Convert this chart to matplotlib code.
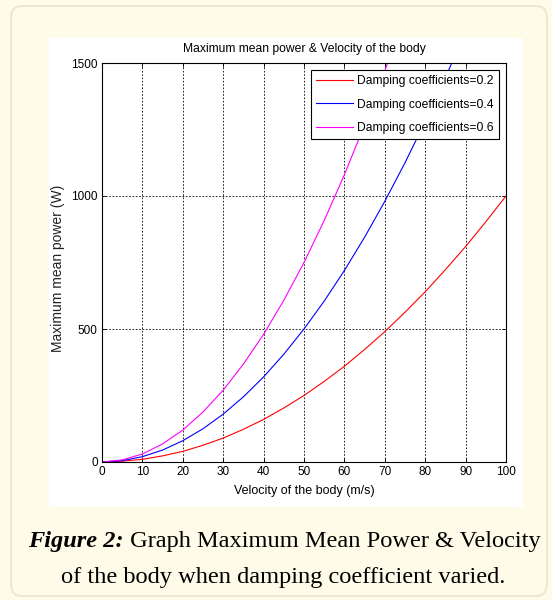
import matplotlib
matplotlib.use("Agg")
import matplotlib.pyplot as plt
from matplotlib.patches import Rectangle, FancyBboxPatch

# velocity of the body (m/s) and read-off mean power (W)
velocity = [0, 5, 10, 15, 20, 25, 30, 35, 40, 45, 50,
            55, 60, 65, 70, 75, 80, 85, 90, 95, 100]
power_02 = [0, 3, 10, 23, 40, 63, 90, 123, 160, 203, 250,
            303, 360, 423, 490, 563, 640, 723, 810, 903, 1000]
power_04 = [0, 5, 20, 45, 80, 125, 180, 245, 320, 405, 500,
            605, 720, 845, 980, 1125, 1280, 1445, 1620, 1805, 2000]
power_06 = [0, 8, 30, 68, 120, 188, 270, 368, 480, 608, 750,
            908, 1080, 1268, 1470, 1688, 1920, 2168, 2430, 2708, 3000]

series_labels = ["Damping coefficients=0.2",
                 "Damping coefficients=0.4",
                 "Damping coefficients=0.6"]
series_colors = ["#ff0000", "#0000ff", "#ff00ff"]

xticks = list(range(0, 101, 10))
yticks = [0, 500, 1000, 1500]

W, H = 552, 600
cream = "#fffbe9"

fig = plt.figure(figsize=(W / 100, H / 100), dpi=100, facecolor=cream)

# outer rounded card and white plot panel
fig.patches.append(FancyBboxPatch((11 / W, 1 - 596 / H), 536 / W, 590 / H,
                                  boxstyle="round,pad=0,rounding_size=0.02",
                                  transform=fig.transFigure, facecolor=cream,
                                  edgecolor="#ede7d2", linewidth=1.5, zorder=-2))
fig.patches.append(Rectangle((49 / W, 1 - 507 / H), 474 / W, 469 / H,
                             transform=fig.transFigure, facecolor="white",
                             edgecolor="none", zorder=-1))

ax = fig.add_axes([102 / W, 1 - 462 / H, 404 / W, 399 / H])
ax.set_facecolor("white")

for p, lab, col in zip([power_02, power_04, power_06], series_labels, series_colors):
    ax.plot(velocity, p, color=col, linewidth=0.8, label=lab)

ax.set_xlim(0, 100)
ax.set_ylim(0, 1500)
ax.set_xticks(xticks)
ax.set_yticks(yticks)
ax.grid(True, color="black", linestyle=(0, (2, 2)), linewidth=0.6)
ax.tick_params(direction="in", length=3, labelsize=8.5, width=0.6, pad=3,
               top=True, right=True)
for s in ax.spines.values():
    s.set_linewidth(0.8)
for t in ax.get_xticklabels() + ax.get_yticklabels():
    t.set_family("Liberation Sans")

ax.set_title("Maximum mean power & Velocity of the body", fontsize=8.7,
             family="Liberation Sans", pad=8)
ax.set_xlabel("Velocity of the body (m/s)", fontsize=9,
              family="Liberation Sans", labelpad=5)
ax.set_ylabel("Maximum mean power (W)", fontsize=10,
              family="Liberation Sans", color="#222222")
ax.yaxis.set_label_coords(-37 / 404, 0.486)

leg = ax.legend(loc="upper right", fancybox=False,
                framealpha=1, edgecolor="black", handlelength=3.1,
                handletextpad=0.35, borderaxespad=0.6, labelspacing=0.95,
                prop={"family": "Liberation Sans", "size": 8.7})
leg.get_frame().set_linewidth(0.8)

# caption, sized to the width of the card
line1_bold = "Figure 2:"
line1_rest = " Graph Maximum Mean Power & Velocity"
line2 = "of the body when damping coefficient varied."
cap_size = 14
t1 = fig.text(0, 1 - 541 / H, line1_bold, fontsize=cap_size,
              family="Liberation Serif", style="italic", weight="bold",
              va="center", ha="left")
t2 = fig.text(0, 1 - 541 / H, line1_rest, fontsize=cap_size,
              family="Liberation Serif", va="center", ha="left")
fig.canvas.draw()
r = fig.canvas.get_renderer()
w_total = t1.get_window_extent(r).width + t2.get_window_extent(r).width
cap_size = cap_size * 514 / w_total
t1.set_fontsize(cap_size)
t2.set_fontsize(cap_size)
fig.canvas.draw()
w1 = t1.get_window_extent(r).width
t1.set_x(28 / W)
t2.set_x((28 + w1) / W)
fig.text(283 / W, 1 - 578 / H, line2, fontsize=cap_size,
         family="Liberation Serif", va="center", ha="center")

fig.savefig("out.png", dpi=100, facecolor=cream)
